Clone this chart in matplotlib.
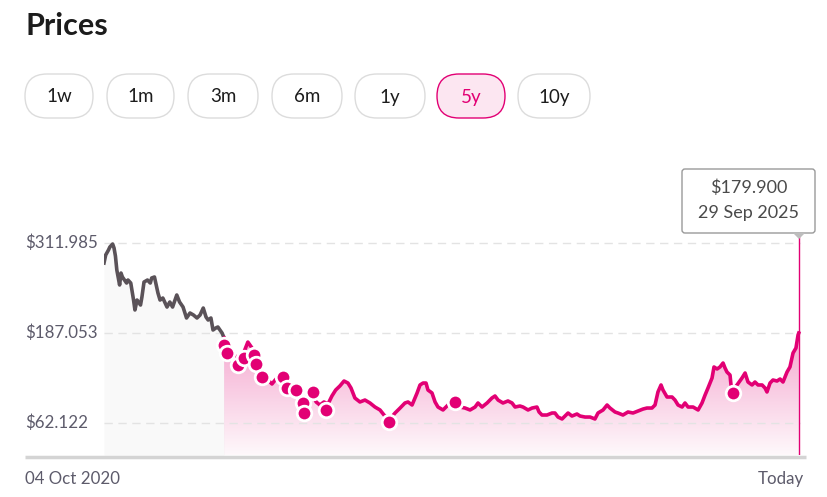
import matplotlib
matplotlib.use("Agg")
import matplotlib.pyplot as plt
import matplotlib.transforms as mtransforms
from matplotlib.patches import FancyBboxPatch, Polygon
import numpy as np

plt.rcParams['font.family'] = ['Lato', 'DejaVu Sans']

# ---------------- data ----------------
title = "Prices"
range_buttons = ["1w", "1m", "3m", "6m", "1y", "5y", "10y"]
selected_button = "5y"

ytick_values = [62.122, 187.053, 311.985]
ytick_labels = ["$62.122", "$187.053", "$311.985"]
x_start_label = "04 Oct 2020"
x_end_label = "Today"

# history before the holding (grey), decimal years
hist_years = [2020.758, 2020.77, 2020.79, 2020.80, 2020.82, 2020.83, 2020.84, 2020.85, 2020.87, 2020.88,
              2020.89, 2020.92, 2020.93, 2020.95, 2020.97, 2020.98, 2020.995, 2021.02, 2021.03, 2021.045,
              2021.07, 2021.09, 2021.10, 2021.12, 2021.145, 2021.16, 2021.18, 2021.21, 2021.23, 2021.25,
              2021.28, 2021.30, 2021.325, 2021.35, 2021.375, 2021.40, 2021.425, 2021.447, 2021.47, 2021.49,
              2021.505, 2021.525, 2021.54, 2021.56, 2021.575, 2021.605, 2021.62]
hist_prices = [284.2, 295.3, 302.2, 306.4, 310.6, 305.0, 293.9, 274.5, 253.7, 270.3,
               264.8, 256.4, 260.6, 256.4, 232.8, 219.0, 232.8, 225.9, 237.0, 257.8,
               260.6, 256.4, 263.4, 264.8, 242.6, 232.8, 235.6, 223.1, 230.1, 223.1,
               239.8, 230.1, 223.1, 207.9, 214.8, 212.0, 207.9, 212.0, 221.7, 209.2,
               205.1, 207.9, 191.2, 194.0, 195.4, 187.0, 180.1]

# holding period (magenta)
hold_years = [2021.62, 2021.65, 2021.676, 2021.705, 2021.734, 2021.762, 2021.79, 2021.82, 2021.848, 2021.877,
              2021.906, 2021.934, 2021.963, 2021.992, 2022.02, 2022.05, 2022.078, 2022.107, 2022.135, 2022.164,
              2022.193, 2022.22, 2022.25, 2022.28, 2022.307, 2022.336, 2022.365, 2022.393, 2022.42, 2022.45,
              2022.48, 2022.508, 2022.53, 2022.558, 2022.594, 2022.63, 2022.666, 2022.702, 2022.738, 2022.767,
              2022.803, 2022.846, 2022.882, 2022.917, 2022.939, 2022.968, 2023.004, 2023.025, 2023.047, 2023.068,
              2023.082, 2023.111, 2023.133, 2023.154, 2023.19, 2023.233, 2023.276, 2023.312, 2023.348, 2023.384,
              2023.42, 2023.441, 2023.47, 2023.506, 2023.541, 2023.563, 2023.585, 2023.62, 2023.656, 2023.685,
              2023.707, 2023.742, 2023.764, 2023.80, 2023.829, 2023.864, 2023.879, 2023.90, 2023.936, 2023.972,
              2023.993, 2024.015, 2024.044, 2024.065, 2024.087, 2024.115, 2024.151, 2024.173, 2024.209, 2024.245,
              2024.28, 2024.302, 2024.338, 2024.367, 2024.388, 2024.424, 2024.445, 2024.481, 2024.517, 2024.553,
              2024.589, 2024.625, 2024.653, 2024.689, 2024.711, 2024.732, 2024.754, 2024.768, 2024.797, 2024.833,
              2024.854, 2024.876, 2024.905, 2024.926, 2024.948, 2024.984, 2025.02, 2025.048, 2025.07, 2025.091,
              2025.12, 2025.134, 2025.156, 2025.177, 2025.199, 2025.213, 2025.227, 2025.249, 2025.256, 2025.27,
              2025.299, 2025.335, 2025.357, 2025.378, 2025.407, 2025.428, 2025.45, 2025.479, 2025.5, 2025.514,
              2025.536, 2025.557, 2025.586, 2025.608, 2025.629, 2025.658, 2025.679, 2025.701, 2025.722, 2025.737,
              2025.742]
hold_prices = [180.1, 169.0, 163.4, 152.3, 146.8, 160.7, 174.5, 166.2, 155.1, 142.6,
               130.1, 121.8, 116.3, 123.2, 124.6, 117.6, 112.1, 110.7, 107.9, 105.2,
               96.8, 99.6, 102.4, 91.3, 87.1, 91.3, 88.5, 99.6, 107.9, 113.5,
               120.4, 117.6, 110.7, 96.8, 91.3, 94.0, 89.9, 84.3, 80.2, 73.2,
               66.3, 76.0, 82.9, 89.9, 91.3, 87.1, 103.8, 114.9, 117.6, 117.6,
               107.9, 103.8, 91.3, 84.3, 80.2, 88.5, 89.9, 84.3, 82.9, 80.2,
               84.3, 89.9, 84.3, 89.9, 96.8, 99.6, 94.0, 89.9, 92.7, 89.9,
               84.3, 85.7, 84.3, 80.2, 82.9, 84.3, 77.4, 73.2, 73.2, 76.0,
               76.0, 70.4, 67.7, 71.8, 76.0, 71.8, 74.6, 71.8, 70.4, 70.4,
               67.7, 76.0, 80.2, 87.1, 82.9, 77.4, 76.0, 73.2, 77.4, 76.0,
               78.8, 81.5, 82.9, 82.9, 87.1, 105.2, 114.9, 107.9, 98.2, 98.2,
               94.0, 87.1, 84.3, 89.9, 84.3, 84.3, 80.2, 89.9, 101.0, 110.7,
               124.6, 139.9, 137.1, 139.9, 145.4, 138.5, 132.9, 128.7, 114.9, 107.9,
               114.9, 124.6, 131.5, 119.0, 114.9, 119.0, 114.9, 114.9, 110.7, 105.2,
               117.6, 121.8, 120.4, 123.2, 119.0, 132.9, 139.9, 159.3, 166.2, 184.3,
               187.0]

# transaction markers
event_years = [2021.62, 2021.64, 2021.72, 2021.762, 2021.834, 2021.848, 2021.892, 2022.042, 2022.07,
               2022.135, 2022.186, 2022.193, 2022.257, 2022.35, 2022.803, 2023.276, 2025.27]
event_prices = [170.4, 159.3, 142.6, 152.3, 156.5, 144.0, 125.9, 125.9, 110.7,
                107.9, 89.9, 76.0, 105.2, 80.2, 63.5, 91.3, 103.8]

tooltip_price = "$179.900"
tooltip_date = "29 Sep 2025"

if len(hist_years) != len(hist_prices) or len(hold_years) != len(hold_prices) or len(event_years) != len(event_prices):
    raise SystemExit("length mismatch")

# ---------------- styles ----------------
MAGENTA = "#E20074"
GREY_LINE = "#5a5258"
LABEL = "#5d5b6b"
W, H = 827, 497

fig = plt.figure(figsize=(W / 100, H / 100), dpi=100)
fig.patch.set_facecolor("white")

# data axes (pixel layout: x 104..806, y 160..455)
ax_l, ax_r, ax_t, ax_b = 104, 806, 160, 455
ax = fig.add_axes([ax_l / W, 1 - ax_b / H, (ax_r - ax_l) / W, (ax_b - ax_t) / H])
XLIM = (2020.758, 2025.794)
YLIM = (17.7, 427.2)
ax.axis("off")

# grid lines
grid_end = (800 - ax_l) / (ax_r - ax_l)
for v in ytick_values:
    ax.axhline(v, xmin=0, xmax=grid_end, color="#e3e3e3", lw=1.0, dashes=(6, 4), zorder=1)

ybot = YLIM[0]

# grey fill for history
ax.fill_between(hist_years, hist_prices, ybot, color="#f9f9f9", lw=0, zorder=0)

# gradient fill for holding period
poly_pts = [(hold_years[0], ybot)] + list(zip(hold_years, hold_prices)) + [(hold_years[-1], ybot)]
poly = Polygon(poly_pts, closed=True, transform=ax.transData, facecolor="none", edgecolor="none")
ax.add_patch(poly)
ytop_grad = 190.0
n = 256
alpha = np.linspace(0.36, 0.03, n)
rgba = np.zeros((n, 1, 4))
rgba[:, 0, 0] = 226 / 255
rgba[:, 0, 1] = 0
rgba[:, 0, 2] = 116 / 255
rgba[:, 0, 3] = alpha
img = ax.imshow(rgba, extent=[hold_years[0], hold_years[-1], ybot, ytop_grad], origin="upper",
                aspect="auto", zorder=0.5, interpolation="bilinear")
img.set_clip_path(poly)
ax.set_xlim(*XLIM)
ax.set_ylim(*YLIM)

# lines
ax.plot(hist_years, hist_prices, color=GREY_LINE, lw=2.6, solid_joinstyle="round", zorder=3)
ax.plot(hold_years, hold_prices, color=MAGENTA, lw=2.6, solid_joinstyle="round", zorder=3)

# markers
ax.plot(event_years, event_prices, ls="none", marker="o", ms=10.5, mfc=MAGENTA, mec="white", mew=2.0, zorder=4)

# vertical hover line
ax.axvline(hold_years[-1], ymin=0, ymax=(ax_b - 233) / (ax_b - ax_t), color=MAGENTA, lw=1.0, zorder=5)

# ---------------- overlay in pixel coordinates ----------------
ov = fig.add_axes([0, 0, 1, 1])
ov.set_xlim(0, W)
ov.set_ylim(H, 0)
ov.axis("off")

ov.text(25, 26, title, fontsize=22, fontweight="bold", color="#1c1c1c", va="center", ha="left")

pill_x = [(25, 93), (107, 174), (188, 258), (272, 342), (355, 425), (437, 505), (518, 590)]
for (x0, x1), lab in zip(pill_x, range_buttons):
    sel = lab == selected_button
    p = FancyBboxPatch((x0, 74), x1 - x0, 44, boxstyle="round,pad=0,rounding_size=22",
                       facecolor="#fce6f1" if sel else "white",
                       edgecolor=MAGENTA if sel else "#dcdcdc", lw=1.0)
    ov.add_patch(p)
    ov.text((x0 + x1) / 2, 97, lab, fontsize=13.5, color=MAGENTA if sel else "#1c1c1c",
            ha="center", va="center")

# y tick labels
blend = mtransforms.blended_transform_factory(ov.transData, ax.transData)
for v, lab in zip(ytick_values, ytick_labels):
    ov.text(25, v, lab, transform=blend, fontsize=12.2, color=LABEL, ha="left", va="center")

# baseline
ov.plot([25, 806], [456.5, 456.5], color="#d4d4d4", lw=2.5, solid_capstyle="butt")

# x labels
ov.text(25, 479, x_start_label, fontsize=12.2, color=LABEL, ha="left", va="center")
ov.text(804, 479, x_end_label, fontsize=12.2, color=LABEL, ha="right", va="center")

# tooltip
tb = FancyBboxPatch((682, 169), 133, 64, boxstyle="round,pad=0,rounding_size=3",
                    facecolor="white", edgecolor="#9a9a9a", lw=1.0, zorder=6)
ov.add_patch(tb)
xv = 799
tri = Polygon([(xv - 6, 233), (xv + 6, 233), (xv, 239)], closed=True, facecolor="#bdbdbd",
              edgecolor="none", zorder=6)
ov.add_patch(tri)
ov.text(748.5, 188, tooltip_price, fontsize=13, color="#4a4a4a", ha="center", va="center", zorder=7)
ov.text(748.5, 213, tooltip_date, fontsize=13, color="#4a4a4a", ha="center", va="center", zorder=7)

fig.savefig("out.png", dpi=100, facecolor="white")
